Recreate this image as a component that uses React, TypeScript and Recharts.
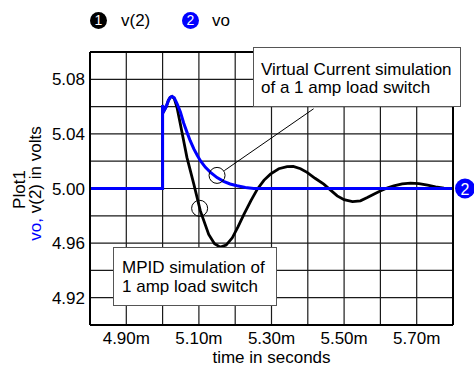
import React from "react";
import {
  LineChart,
  Line,
  XAxis,
  YAxis,
  CartesianGrid,
  ReferenceDot,
  ReferenceLine,
} from "recharts";

// time in ms, volts
const v2Time = [
  4.8, 5.0, 5.0, 5.004, 5.01, 5.016, 5.021, 5.026, 5.032, 5.04, 5.049, 5.058,
  5.067, 5.086, 5.104, 5.127, 5.143, 5.159, 5.175, 5.192, 5.208, 5.224, 5.243,
  5.261, 5.279, 5.297, 5.32, 5.343, 5.36, 5.38, 5.398, 5.42, 5.444, 5.462,
  5.481, 5.5, 5.523, 5.545, 5.564, 5.583, 5.601, 5.62, 5.637, 5.66, 5.683,
  5.706, 5.73, 5.752, 5.775, 5.8,
];
const v2Volts = [
  5.0, 5.0, 5.061, 5.057, 5.06, 5.0645, 5.0668, 5.0675, 5.066, 5.059, 5.047,
  5.035, 5.0228, 5.0032, 4.9836, 4.9663, 4.9595, 4.957, 4.9585, 4.9639, 4.972,
  4.981, 4.991, 4.9995, 5.006, 5.0105, 5.0145, 5.016, 5.0162, 5.0145, 5.0118,
  5.0075, 5.0032, 4.999, 4.9946, 4.9918, 4.9904, 4.991, 4.9934, 4.996, 4.9983,
  5.0005, 5.002, 5.0034, 5.0039, 5.0035, 5.0024, 5.0012, 5.0002, 5.0,
];

const voTime = [
  4.8, 5.0, 5.0, 5.004, 5.01, 5.016, 5.021, 5.026, 5.032, 5.04, 5.049, 5.058,
  5.067, 5.076, 5.086, 5.095, 5.104, 5.118, 5.132, 5.15, 5.168, 5.186, 5.205,
  5.228, 5.251, 5.8,
];
const voVolts = [
  5.0, 5.0, 5.061, 5.057, 5.06, 5.0645, 5.0668, 5.0675, 5.0665, 5.0621, 5.056,
  5.048, 5.0413, 5.035, 5.029, 5.0245, 5.0204, 5.0155, 5.0118, 5.008, 5.0052,
  5.0033, 5.002, 5.0008, 5.0, 5.0,
];

const xGridTicks = [4.8, 4.9, 5.0, 5.1, 5.2, 5.3, 5.4, 5.5, 5.6, 5.7, 5.8];
const xLabelTicks = [4.9, 5.1, 5.3, 5.5, 5.7];
const xTickLabels = ["4.90m", "5.10m", "5.30m", "5.50m", "5.70m"];

const yGridTicks = [4.9, 4.92, 4.94, 4.96, 4.98, 5.0, 5.02, 5.04, 5.06, 5.08, 5.1];
const yLabelTicks = [4.92, 4.96, 5.0, 5.04, 5.08];
const yTickLabels = ["4.92", "4.96", "5.00", "5.04", "5.08"];

const xMinorTicks = Array.from({ length: 51 }, (_, i) => 4.8 + i * 0.02);
const yMinorTicks = Array.from({ length: 51 }, (_, i) => 4.9 + i * 0.004);

const v2Data = v2Time.map((t, i) => ({ t, v: v2Volts[i] }));
const voData = voTime.map((t, i) => ({ t, v: voVolts[i] }));

const BLUE = "#0000ff";
const FONT = "'Liberation Sans', Arial, sans-serif";

const pick = (ticks: number[], labels: string[]) => (v: number) => {
  const i = ticks.findIndex((t) => Math.abs(t - v) < 1e-6);
  return i >= 0 ? labels[i] : "";
};

const renderYLabel = (props: any) => {
  const { viewBox } = props;
  const cy = viewBox.y + viewBox.height / 2;
  const x1 = viewBox.x + 25;
  const x2 = viewBox.x + 41;
  return (
    <g>
      <text
        x={x1}
        y={cy + 1}
        transform={`rotate(-90 ${x1} ${cy + 1})`}
        textAnchor="middle"
        fontSize={17}
        fill="#000"
      >
        Plot1
      </text>
      <text
        x={x2}
        y={cy - 5}
        transform={`rotate(-90 ${x2} ${cy - 5})`}
        textAnchor="middle"
        fontSize={17}
      >
        <tspan fill={BLUE}>vo,</tspan>
        <tspan fill="#000"> v(2) in volts</tspan>
      </text>
    </g>
  );
};

const renderXLabel = (props: any) => {
  const { viewBox } = props;
  return (
    <text
      x={viewBox.x + viewBox.width / 2}
      y={viewBox.y + 38}
      textAnchor="middle"
      fontSize={17}
      fill="#000"
    >
      time in seconds
    </text>
  );
};

const EndMarker = (props: any) => (
  <g>
    <circle cx={props.cx + 12} cy={props.cy} r={10} fill={BLUE} />
    <text
      x={props.cx + 12}
      y={props.cy + 6}
      textAnchor="middle"
      fontSize={16}
      fill="#fff"
    >
      2
    </text>
  </g>
);

const badge = (bg: string) => ({
  position: "absolute" as const,
  width: 17,
  height: 17,
  borderRadius: 9,
  background: bg,
  color: "#fff",
  fontSize: 14,
  lineHeight: "17px",
  textAlign: "center" as const,
});

const box = {
  position: "absolute" as const,
  boxSizing: "border-box" as const,
  background: "#fff",
  border: "1px solid #555",
  fontSize: 17,
  lineHeight: "18px",
  color: "#000",
  whiteSpace: "nowrap" as const,
};

export default function App() {
  return (
    <div
      style={{
        position: "absolute",
        left: 0,
        top: 0,
        width: 474,
        height: 366,
        background: "#fff",
        fontFamily: FONT,
      }}
    >
      <LineChart
        width={474}
        height={366}
        margin={{ top: 52, right: 21, bottom: 0, left: 0 }}
      >
        <CartesianGrid
          xAxisId={0}
          yAxisId={0}
          stroke="#1a1a1a"
          strokeWidth={1.2}
          horizontalValues={yGridTicks}
          verticalValues={xGridTicks}
        />
        <XAxis
          dataKey="t"
          type="number"
          domain={[4.8, 5.8]}
          ticks={xGridTicks}
          interval={0}
          height={41}
          axisLine={false}
          tickLine={false}
          tickSize={5}
          tickMargin={2}
          tick={{ fill: "#000", fontSize: 17 }}
          tickFormatter={pick(xLabelTicks, xTickLabels)}
          label={renderXLabel}
        />
        <YAxis
          type="number"
          domain={[4.9, 5.1]}
          ticks={yGridTicks}
          interval={0}
          width={90}
          axisLine={false}
          tickLine={false}
          tickSize={3}
          tickMargin={2}
          tick={{ fill: "#000", fontSize: 17 }}
          tickFormatter={pick(yLabelTicks, yTickLabels)}
          label={renderYLabel}
        />
        <XAxis
          xAxisId="minor"
          dataKey="t"
          type="number"
          domain={[4.8, 5.8]}
          ticks={xMinorTicks}
          interval={0}
          mirror
          height={1}
          axisLine={false}
          tickSize={4}
          tickLine={{ stroke: "#000" }}
          tickFormatter={() => ""}
        />
        <YAxis
          yAxisId="minor"
          type="number"
          domain={[4.9, 5.1]}
          ticks={yMinorTicks}
          interval={0}
          mirror
          width={1}
          axisLine={false}
          tickSize={4}
          tickLine={{ stroke: "#000" }}
          tickFormatter={() => ""}
        />
        <ReferenceLine
          segment={[
            { x: 5.17, y: 5.0131 },
            { x: 5.416, y: 5.0584 },
          ]}
          stroke="#000"
          strokeWidth={1}
        />
        <Line
          data={v2Data}
          dataKey="v"
          type="linear"
          stroke="#000"
          strokeWidth={2.8}
          dot={false}
          isAnimationActive={false}
        />
        <Line
          data={voData}
          dataKey="v"
          type="linear"
          stroke={BLUE}
          strokeWidth={3}
          dot={false}
          isAnimationActive={false}
        />
        <ReferenceDot x={5.15} y={5.0096} r={8} fill="none" stroke="#000" strokeWidth={1} />
        <ReferenceDot x={5.102} y={4.9855} r={8} fill="none" stroke="#000" strokeWidth={1} />
        <ReferenceLine x={4.8} stroke="#000" strokeWidth={2} ifOverflow="visible" />
        <ReferenceLine x={5.8} stroke="#000" strokeWidth={2} ifOverflow="visible" />
        <ReferenceLine y={4.9} stroke="#000" strokeWidth={2} ifOverflow="visible" />
        <ReferenceLine y={5.1} stroke="#000" strokeWidth={2} ifOverflow="visible" />
        <ReferenceDot x={5.8} y={5.0} shape={EndMarker} />
      </LineChart>

      {/* legend */}
      <div style={{ ...badge("#000"), left: 90, top: 12 }}>1</div>
      <div style={{ position: "absolute", left: 121, top: 11, fontSize: 17, lineHeight: "20px" }}>
        v(2)
      </div>
      <div style={{ ...badge(BLUE), left: 182, top: 12 }}>2</div>
      <div style={{ position: "absolute", left: 212, top: 11, fontSize: 17, lineHeight: "20px" }}>
        vo
      </div>

      {/* annotations */}
      <div style={{ ...box, left: 253, top: 47, width: 208, height: 60, padding: "13px 0 0 7px" }}>
        Virtual Current simulation
        <br />
        of a 1 amp load switch
      </div>
      <div style={{ ...box, left: 113, top: 247, width: 164, height: 59, padding: "10px 0 0 8px", lineHeight: "19px" }}>
        MPID simulation of
        <br />1 amp load switch
      </div>
    </div>
  );
}
